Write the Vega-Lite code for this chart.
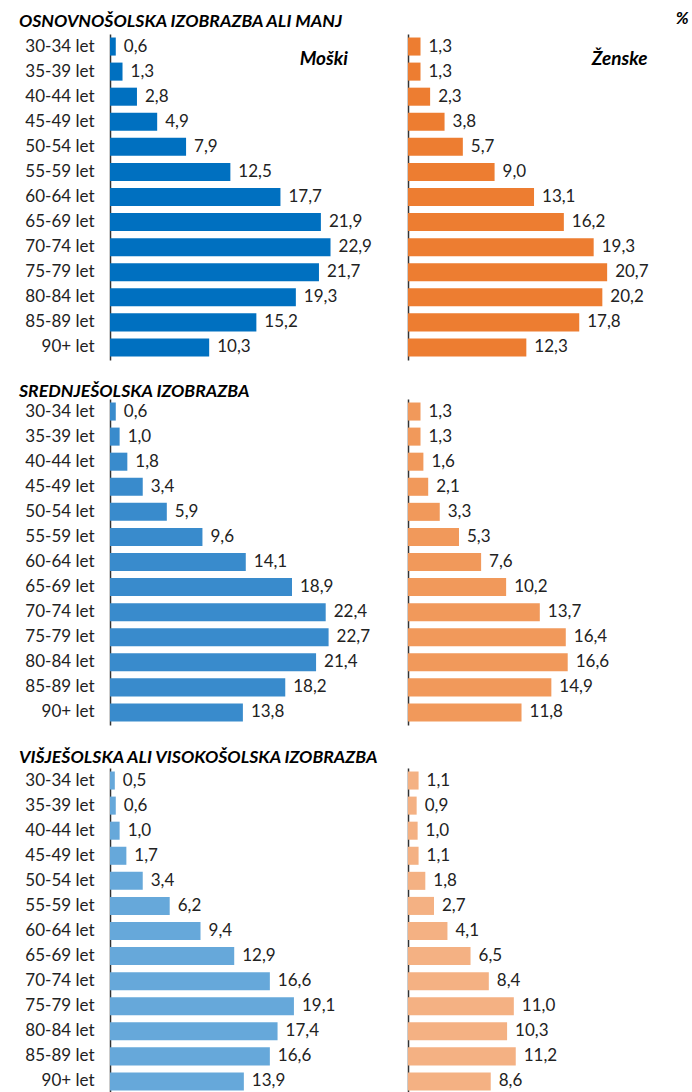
{
  "$schema": "https://vega.github.io/schema/vega-lite/v6.json",
  "padding": {"left": 5, "top": 9, "right": 0, "bottom": 0},
  "config": {
    "font": "Lato",
    "view": {"stroke": null},
    "locale": {"number": {"decimal": ",", "thousands": ".", "grouping": [3], "currency": ["", " €"]}},
    "title": {"font": "Lato", "fontSize": 17.7, "fontWeight": "bold", "fontStyle": "italic", "color": "#000000", "anchor": "start", "frame": "bounds", "dx": 14},
    "text": {"font": "Lato", "fontSize": 17, "color": "#222222"}
  },
  "datasets": {
    "d": [
      {"edu": 1, "sex": "M", "age": "30-34 let", "value": 0.6},
      {"edu": 1, "sex": "M", "age": "35-39 let", "value": 1.3},
      {"edu": 1, "sex": "M", "age": "40-44 let", "value": 2.8},
      {"edu": 1, "sex": "M", "age": "45-49 let", "value": 4.9},
      {"edu": 1, "sex": "M", "age": "50-54 let", "value": 7.9},
      {"edu": 1, "sex": "M", "age": "55-59 let", "value": 12.5},
      {"edu": 1, "sex": "M", "age": "60-64 let", "value": 17.7},
      {"edu": 1, "sex": "M", "age": "65-69 let", "value": 21.9},
      {"edu": 1, "sex": "M", "age": "70-74 let", "value": 22.9},
      {"edu": 1, "sex": "M", "age": "75-79 let", "value": 21.7},
      {"edu": 1, "sex": "M", "age": "80-84 let", "value": 19.3},
      {"edu": 1, "sex": "M", "age": "85-89 let", "value": 15.2},
      {"edu": 1, "sex": "M", "age": "90+ let", "value": 10.3},
      {"edu": 1, "sex": "F", "age": "30-34 let", "value": 1.3},
      {"edu": 1, "sex": "F", "age": "35-39 let", "value": 1.3},
      {"edu": 1, "sex": "F", "age": "40-44 let", "value": 2.3},
      {"edu": 1, "sex": "F", "age": "45-49 let", "value": 3.8},
      {"edu": 1, "sex": "F", "age": "50-54 let", "value": 5.7},
      {"edu": 1, "sex": "F", "age": "55-59 let", "value": 9.0},
      {"edu": 1, "sex": "F", "age": "60-64 let", "value": 13.1},
      {"edu": 1, "sex": "F", "age": "65-69 let", "value": 16.2},
      {"edu": 1, "sex": "F", "age": "70-74 let", "value": 19.3},
      {"edu": 1, "sex": "F", "age": "75-79 let", "value": 20.7},
      {"edu": 1, "sex": "F", "age": "80-84 let", "value": 20.2},
      {"edu": 1, "sex": "F", "age": "85-89 let", "value": 17.8},
      {"edu": 1, "sex": "F", "age": "90+ let", "value": 12.3},
      {"edu": 2, "sex": "M", "age": "30-34 let", "value": 0.6},
      {"edu": 2, "sex": "M", "age": "35-39 let", "value": 1.0},
      {"edu": 2, "sex": "M", "age": "40-44 let", "value": 1.8},
      {"edu": 2, "sex": "M", "age": "45-49 let", "value": 3.4},
      {"edu": 2, "sex": "M", "age": "50-54 let", "value": 5.9},
      {"edu": 2, "sex": "M", "age": "55-59 let", "value": 9.6},
      {"edu": 2, "sex": "M", "age": "60-64 let", "value": 14.1},
      {"edu": 2, "sex": "M", "age": "65-69 let", "value": 18.9},
      {"edu": 2, "sex": "M", "age": "70-74 let", "value": 22.4},
      {"edu": 2, "sex": "M", "age": "75-79 let", "value": 22.7},
      {"edu": 2, "sex": "M", "age": "80-84 let", "value": 21.4},
      {"edu": 2, "sex": "M", "age": "85-89 let", "value": 18.2},
      {"edu": 2, "sex": "M", "age": "90+ let", "value": 13.8},
      {"edu": 2, "sex": "F", "age": "30-34 let", "value": 1.3},
      {"edu": 2, "sex": "F", "age": "35-39 let", "value": 1.3},
      {"edu": 2, "sex": "F", "age": "40-44 let", "value": 1.6},
      {"edu": 2, "sex": "F", "age": "45-49 let", "value": 2.1},
      {"edu": 2, "sex": "F", "age": "50-54 let", "value": 3.3},
      {"edu": 2, "sex": "F", "age": "55-59 let", "value": 5.3},
      {"edu": 2, "sex": "F", "age": "60-64 let", "value": 7.6},
      {"edu": 2, "sex": "F", "age": "65-69 let", "value": 10.2},
      {"edu": 2, "sex": "F", "age": "70-74 let", "value": 13.7},
      {"edu": 2, "sex": "F", "age": "75-79 let", "value": 16.4},
      {"edu": 2, "sex": "F", "age": "80-84 let", "value": 16.6},
      {"edu": 2, "sex": "F", "age": "85-89 let", "value": 14.9},
      {"edu": 2, "sex": "F", "age": "90+ let", "value": 11.8},
      {"edu": 3, "sex": "M", "age": "30-34 let", "value": 0.5},
      {"edu": 3, "sex": "M", "age": "35-39 let", "value": 0.6},
      {"edu": 3, "sex": "M", "age": "40-44 let", "value": 1.0},
      {"edu": 3, "sex": "M", "age": "45-49 let", "value": 1.7},
      {"edu": 3, "sex": "M", "age": "50-54 let", "value": 3.4},
      {"edu": 3, "sex": "M", "age": "55-59 let", "value": 6.2},
      {"edu": 3, "sex": "M", "age": "60-64 let", "value": 9.4},
      {"edu": 3, "sex": "M", "age": "65-69 let", "value": 12.9},
      {"edu": 3, "sex": "M", "age": "70-74 let", "value": 16.6},
      {"edu": 3, "sex": "M", "age": "75-79 let", "value": 19.1},
      {"edu": 3, "sex": "M", "age": "80-84 let", "value": 17.4},
      {"edu": 3, "sex": "M", "age": "85-89 let", "value": 16.6},
      {"edu": 3, "sex": "M", "age": "90+ let", "value": 13.9},
      {"edu": 3, "sex": "F", "age": "30-34 let", "value": 1.1},
      {"edu": 3, "sex": "F", "age": "35-39 let", "value": 0.9},
      {"edu": 3, "sex": "F", "age": "40-44 let", "value": 1.0},
      {"edu": 3, "sex": "F", "age": "45-49 let", "value": 1.1},
      {"edu": 3, "sex": "F", "age": "50-54 let", "value": 1.8},
      {"edu": 3, "sex": "F", "age": "55-59 let", "value": 2.7},
      {"edu": 3, "sex": "F", "age": "60-64 let", "value": 4.1},
      {"edu": 3, "sex": "F", "age": "65-69 let", "value": 6.5},
      {"edu": 3, "sex": "F", "age": "70-74 let", "value": 8.4},
      {"edu": 3, "sex": "F", "age": "75-79 let", "value": 11.0},
      {"edu": 3, "sex": "F", "age": "80-84 let", "value": 10.3},
      {"edu": 3, "sex": "F", "age": "85-89 let", "value": 11.2},
      {"edu": 3, "sex": "F", "age": "90+ let", "value": 8.6}
    ]
  },
  "spacing": 23,
  "vconcat": [
    {
      "title": {"text": "OSNOVNOŠOLSKA IZOBRAZBA ALI MANJ", "offset": -21},
      "bounds": "flush",
      "spacing": 38,
      "hconcat": [
        {
          "width": 260, "height": 326,
          "encoding": {
            "y": {"field": "age", "type": "nominal", "sort": null, "scale": {"paddingInner": 0.28, "paddingOuter": 0.14}, "axis": {"title": null, "ticks": false, "domainColor": "#333333", "domainWidth": 1.5, "labelFontSize": 17, "labelFont": "Lato", "labelColor": "#222222", "labelPadding": 16, "minExtent": 105, "maxExtent": 105}},
            "x": {"field": "value", "type": "quantitative", "scale": {"domain": [0, 27]}, "axis": null}
          },
          "layer": [
            {"data": {"name": "d"}, "transform": [{"filter": "datum.edu == 1 && datum.sex == 'M'"}], "mark": {"type": "bar", "color": "#0070C0"}},
            {"data": {"name": "d"}, "transform": [{"filter": "datum.edu == 1 && datum.sex == 'M'"}], "mark": {"type": "text", "align": "left", "baseline": "middle", "dx": 8}, "encoding": {"text": {"field": "value", "type": "quantitative", "format": ".1f"}}},
            {"data": {"values": [{"t": "Moški", "age": "30-34 let", "value": 22.2}]}, "mark": {"type": "text", "fontSize": 19, "fontWeight": "bold", "fontStyle": "italic", "color": "#000000", "dy": 12}, "encoding": {"text": {"field": "t"}}}
          ]
        },
        {
          "width": 279, "height": 326,
          "encoding": {
            "y": {"field": "age", "type": "nominal", "sort": null, "scale": {"paddingInner": 0.28, "paddingOuter": 0.14}, "axis": {"title": null, "ticks": false, "labels": false, "domainColor": "#333333", "domainWidth": 1.5}},
            "x": {"field": "value", "type": "quantitative", "scale": {"domain": [0, 29]}, "axis": null}
          },
          "layer": [
            {"data": {"name": "d"}, "transform": [{"filter": "datum.edu == 1 && datum.sex == 'F'"}], "mark": {"type": "bar", "color": "#ED7D31"}},
            {"data": {"name": "d"}, "transform": [{"filter": "datum.edu == 1 && datum.sex == 'F'"}], "mark": {"type": "text", "align": "left", "baseline": "middle", "dx": 8}, "encoding": {"text": {"field": "value", "type": "quantitative", "format": ".1f"}}},
            {"data": {"values": [{"t": "Ženske", "age": "30-34 let", "value": 22.0}]}, "mark": {"type": "text", "fontSize": 19, "fontWeight": "bold", "fontStyle": "italic", "color": "#000000", "dy": 12}, "encoding": {"text": {"field": "t"}}},
            {"data": {"values": [{"t": "%", "age": "30-34 let", "value": 28.5}]}, "mark": {"type": "text", "fontWeight": "bold", "fontStyle": "italic", "color": "#000000", "dy": -28}, "encoding": {"text": {"field": "t"}}}
          ]
        }
      ]
    },
    {
      "spacing": 24,
      "vconcat": [
        {
          "title": {"text": "SREDNJEŠOLSKA IZOBRAZBA", "offset": -2},
          "bounds": "flush",
          "spacing": 38,
          "hconcat": [
            {
              "width": 260, "height": 326,
              "encoding": {
                "y": {"field": "age", "type": "nominal", "sort": null, "scale": {"paddingInner": 0.28, "paddingOuter": 0.14}, "axis": {"title": null, "ticks": false, "domainColor": "#333333", "domainWidth": 1.5, "labelFontSize": 17, "labelFont": "Lato", "labelColor": "#222222", "labelPadding": 16, "minExtent": 105, "maxExtent": 105}},
                "x": {"field": "value", "type": "quantitative", "scale": {"domain": [0, 27]}, "axis": null}
              },
              "layer": [
                {"data": {"name": "d"}, "transform": [{"filter": "datum.edu == 2 && datum.sex == 'M'"}], "mark": {"type": "bar", "color": "#398BCC"}},
                {"data": {"name": "d"}, "transform": [{"filter": "datum.edu == 2 && datum.sex == 'M'"}], "mark": {"type": "text", "align": "left", "baseline": "middle", "dx": 8}, "encoding": {"text": {"field": "value", "type": "quantitative", "format": ".1f"}}}
              ]
            },
            {
              "width": 279, "height": 326,
              "encoding": {
                "y": {"field": "age", "type": "nominal", "sort": null, "scale": {"paddingInner": 0.28, "paddingOuter": 0.14}, "axis": {"title": null, "ticks": false, "labels": false, "domainColor": "#333333", "domainWidth": 1.5}},
                "x": {"field": "value", "type": "quantitative", "scale": {"domain": [0, 29]}, "axis": null}
              },
              "layer": [
                {"data": {"name": "d"}, "transform": [{"filter": "datum.edu == 2 && datum.sex == 'F'"}], "mark": {"type": "bar", "color": "#F1995B"}},
                {"data": {"name": "d"}, "transform": [{"filter": "datum.edu == 2 && datum.sex == 'F'"}], "mark": {"type": "text", "align": "left", "baseline": "middle", "dx": 8}, "encoding": {"text": {"field": "value", "type": "quantitative", "format": ".1f"}}}
              ]
            }
          ]
        },
        {
          "title": {"text": "VIŠJEŠOLSKA ALI VISOKOŠOLSKA IZOBRAZBA", "offset": 1},
          "bounds": "flush",
          "spacing": 38,
          "hconcat": [
            {
              "width": 260, "height": 326,
              "encoding": {
                "y": {"field": "age", "type": "nominal", "sort": null, "scale": {"paddingInner": 0.28, "paddingOuter": 0.14}, "axis": {"title": null, "ticks": false, "domainColor": "#333333", "domainWidth": 1.5, "labelFontSize": 17, "labelFont": "Lato", "labelColor": "#222222", "labelPadding": 16, "minExtent": 105, "maxExtent": 105}},
                "x": {"field": "value", "type": "quantitative", "scale": {"domain": [0, 27]}, "axis": null}
              },
              "layer": [
                {"data": {"name": "d"}, "transform": [{"filter": "datum.edu == 3 && datum.sex == 'M'"}], "mark": {"type": "bar", "color": "#66A8DA"}},
                {"data": {"name": "d"}, "transform": [{"filter": "datum.edu == 3 && datum.sex == 'M'"}], "mark": {"type": "text", "align": "left", "baseline": "middle", "dx": 8}, "encoding": {"text": {"field": "value", "type": "quantitative", "format": ".1f"}}}
              ]
            },
            {
              "width": 279, "height": 326,
              "encoding": {
                "y": {"field": "age", "type": "nominal", "sort": null, "scale": {"paddingInner": 0.28, "paddingOuter": 0.14}, "axis": {"title": null, "ticks": false, "labels": false, "domainColor": "#333333", "domainWidth": 1.5}},
                "x": {"field": "value", "type": "quantitative", "scale": {"domain": [0, 29]}, "axis": null}
              },
              "layer": [
                {"data": {"name": "d"}, "transform": [{"filter": "datum.edu == 3 && datum.sex == 'F'"}], "mark": {"type": "bar", "color": "#F4B183"}},
                {"data": {"name": "d"}, "transform": [{"filter": "datum.edu == 3 && datum.sex == 'F'"}], "mark": {"type": "text", "align": "left", "baseline": "middle", "dx": 8}, "encoding": {"text": {"field": "value", "type": "quantitative", "format": ".1f"}}}
              ]
            }
          ]
        }
      ]
    }
  ]
}
